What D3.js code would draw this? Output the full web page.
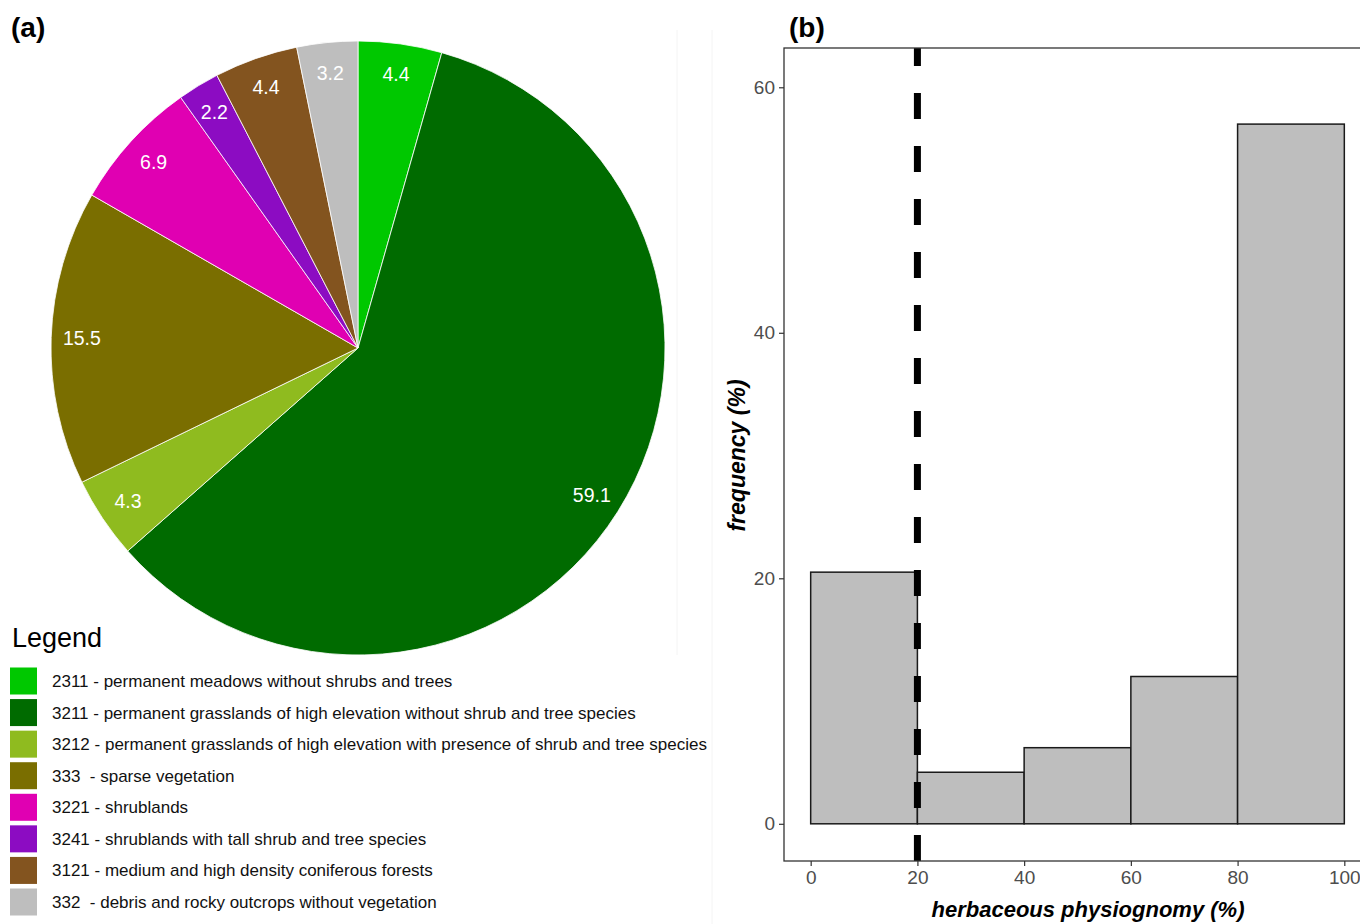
<!DOCTYPE html>
<html>
<head>
<meta charset="utf-8">
<script src="https://cdn.jsdelivr.net/npm/d3@7"></script>
<style>
  html, body { margin: 0; padding: 0; background: #fff; }
  svg { display: block; font-family: Arial, "Liberation Sans", sans-serif; }
</style>
</head>
<body>
<svg id="fig" width="1360" height="924"></svg>
<script>
// Land-cover classes (pie, panel a)
const codes = ["2311", "3211", "3212", "333 ", "3221", "3241", "3121", "332 "];
const descriptions = [
  "permanent meadows without shrubs and trees",
  "permanent grasslands of high elevation without shrub and tree species",
  "permanent grasslands of high elevation with presence of shrub and tree species",
  "sparse vegetation",
  "shrublands",
  "shrublands with tall shrub and tree species",
  "medium and high density coniferous forests",
  "debris and rocky outcrops without vegetation"
];
const shares = [4.4, 59.1, 4.3, 15.5, 6.9, 2.2, 4.4, 3.2];
const classColors = ["#00c800", "#006b00", "#8fbb1f", "#7a6e00", "#e000b2", "#8c0cc2", "#83541f", "#bebebe"];

// Herbaceous physiognomy histogram (panel b)
const binEdges = [0, 20, 40, 60, 80, 100];
const frequency = [20.5, 4.2, 6.2, 12.0, 57.0];
const xTicks = [0, 20, 40, 60, 80, 100];
const yTicks = [0, 20, 40, 60];
const threshold = 20;

const svg = d3.select("#fig");

// faint panel frames
svg.append("line").attr("x1", 677).attr("x2", 677).attr("y1", 30).attr("y2", 655)
  .attr("stroke", "#f4f4f4").attr("stroke-width", 1);
svg.append("line").attr("x1", 712).attr("x2", 712).attr("y1", 30).attr("y2", 924)
  .attr("stroke", "#f4f4f4").attr("stroke-width", 1);

// ---------- panel (a): pie ----------
svg.append("text").attr("x", 11).attr("y", 37)
  .attr("font-size", 28).attr("font-weight", "bold").text("(a)");

const cx = 358, cy = 348, R = 307;
const pieData = shares.map((v, i) => ({ code: codes[i], value: v, color: classColors[i] }));
const pie = d3.pie().sort(null).value(d => d.value);
const arc = d3.arc().innerRadius(0).outerRadius(R);
const labelArc = d3.arc().innerRadius(R * 0.9).outerRadius(R * 0.9);
const arcs = pie(pieData);

const gPie = svg.append("g").attr("transform", `translate(${cx},${cy})`);
gPie.selectAll("path.slice").data(arcs).join("path")
  .attr("class", "slice")
  .attr("d", arc)
  .attr("fill", d => d.data.color)
  .attr("stroke", "#ffffff")
  .attr("stroke-width", 0.8);

gPie.selectAll("text.val").data(arcs).join("text")
  .attr("class", "val")
  .attr("transform", d => `translate(${labelArc.centroid(d)})`)
  .attr("text-anchor", "middle")
  .attr("dy", "0.35em")
  .attr("fill", "#ffffff")
  .attr("font-size", 19.5)
  .text(d => d3.format(".1f")(d.data.value));

// legend
const gLeg = svg.append("g");
gLeg.append("text").attr("x", 12).attr("y", 647).attr("font-size", 27).text("Legend");
const rowY = d3.scalePoint().domain(d3.range(codes.length)).range([681, 902]);
const rows = gLeg.selectAll("g.row").data(pieData).join("g")
  .attr("class", "row")
  .attr("transform", (d, i) => `translate(0,${rowY(i)})`);
rows.append("rect").attr("x", 10).attr("y", -13.5).attr("width", 27).attr("height", 27)
  .attr("fill", d => d.color);
rows.append("text").attr("x", 52).attr("dy", "0.35em").attr("font-size", 17)
  .attr("fill", "#111").style("white-space", "pre")
  .text((d, i) => `${codes[i]} - ${descriptions[i]}`);

// ---------- panel (b): histogram ----------
svg.append("text").attr("x", 789).attr("y", 37)
  .attr("font-size", 28).attr("font-weight", "bold").text("(b)");

const x = d3.scaleLinear().domain([-5, 105]).range([784, 1371]);
const y = d3.scaleLinear().domain([-3.03, 63.2]).range([861, 48]);

const bins = frequency.map((f, i) => ({ x0: binEdges[i], x1: binEdges[i + 1], f }));
svg.append("g").selectAll("rect").data(bins).join("rect")
  .attr("x", d => x(d.x0)).attr("width", d => x(d.x1) - x(d.x0))
  .attr("y", d => y(d.f)).attr("height", d => y(0) - y(d.f))
  .attr("fill", "#bebebe").attr("stroke", "#1a1a1a").attr("stroke-width", 1.5);

// vertical dashed threshold line
svg.append("line")
  .attr("x1", x(threshold)).attr("x2", x(threshold))
  .attr("y1", y(-3.03)).attr("y2", y(63.2))
  .attr("stroke", "#000").attr("stroke-width", 7)
  .attr("stroke-dasharray", "26,27");

// panel border
svg.append("rect").attr("x", 784).attr("y", 48).attr("width", 1371 - 784).attr("height", 861 - 48)
  .attr("fill", "none").attr("stroke", "#333").attr("stroke-width", 1.3);

const axisStyle = g => {
  g.select(".domain").remove();
  g.selectAll(".tick line").attr("stroke", "#333").attr("stroke-width", 1.2);
  g.selectAll(".tick text").attr("fill", "#4d4d4d").attr("font-size", 19)
    .attr("font-family", "Arial, 'Liberation Sans', sans-serif");
};
svg.append("g").attr("transform", "translate(0,861)")
  .call(d3.axisBottom(x).tickValues(xTicks).tickSize(5).tickPadding(5))
  .call(axisStyle);
svg.append("g").attr("transform", "translate(784,0)")
  .call(d3.axisLeft(y).tickValues(yTicks).tickSize(5).tickPadding(4))
  .call(axisStyle);

svg.append("text").attr("x", 1088).attr("y", 917).attr("text-anchor", "middle")
  .attr("font-size", 22).attr("font-weight", "bold").attr("font-style", "italic")
  .text("herbaceous physiognomy (%)");
svg.append("text").attr("transform", `translate(745,${(48 + 861) / 2 + 1}) rotate(-90)`)
  .attr("text-anchor", "middle")
  .attr("font-size", 23).attr("font-weight", "bold").attr("font-style", "italic")
  .text("frequency (%)");
</script>
</body>
</html>
